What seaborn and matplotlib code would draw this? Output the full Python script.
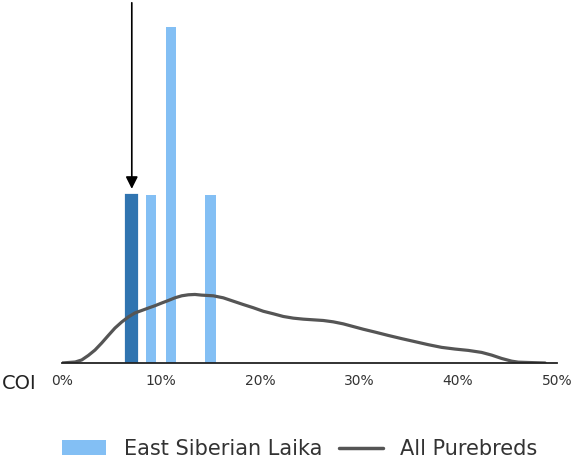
import numpy as np
import pandas as pd
import seaborn as sns
import matplotlib.pyplot as plt
from matplotlib.patches import Patch
from matplotlib.lines import Line2D

# East Siberian Laika COI values (%) and dog counts
laika_coi = [7, 9, 11, 15]
laika_count = [1, 1, 2, 1]
laika_group = ['this dog', 'breed', 'breed', 'breed']

# All purebreds density curve (same y units as counts)
kde_x = [0, 1.34, 1.99, 2.66, 3.33, 4.01, 4.68, 5.35, 6.03, 6.70, 7.37, 8.05, 8.72,
         9.39, 10.07, 10.74, 11.41, 12.09, 12.76, 13.43, 14.11, 15.28, 16.29, 17.30,
         18.31, 19.32, 20.33, 21.34, 22.35, 23.36, 24.37, 25.38, 26.39, 27.40, 28.41,
         29.42, 30.43, 31.62, 32.96, 34.31, 35.66, 37.0, 38.35, 39.70, 41.04, 42.39,
         43.40, 44.41, 45.42, 46.09, 47.10, 48.8]
kde_y = [0, 0.006, 0.018, 0.045, 0.077, 0.119, 0.164, 0.208, 0.244, 0.274, 0.298,
         0.3125, 0.327, 0.341, 0.357, 0.372, 0.388, 0.400, 0.406, 0.408, 0.404, 0.400,
         0.388, 0.368, 0.348, 0.329, 0.308, 0.293, 0.277, 0.267, 0.261, 0.257, 0.253,
         0.245, 0.233, 0.217, 0.201, 0.184, 0.164, 0.145, 0.127, 0.109, 0.093, 0.083,
         0.075, 0.063, 0.047, 0.027, 0.011, 0.005, 0.003, 0.0]

xticks = [0, 10, 20, 30, 40, 50]
xticklabels = ['0%', '10%', '20%', '30%', '40%', '50%']

light = '#83bff4'
dark = '#3074b0'
line_col = '#555555'

df = pd.DataFrame({'coi': laika_coi, 'count': laika_count, 'group': laika_group})

sns.set_style('white')
fig = plt.figure(figsize=(5.75, 4.61), dpi=100)
ax = fig.add_axes([62 / 575, 98 / 461, 495 / 575, 363 / 461])

sns.barplot(data=df, x='coi', y='count', hue='group', native_scale=True, dodge=False,
            palette={'this dog': dark, 'breed': light}, width=0.53, ax=ax, legend=False,
            linewidth=0, saturation=1)
for p in ax.patches:
    if p.get_facecolor()[:3] == plt.matplotlib.colors.to_rgb(dark):
        p.set_edgecolor(dark)
        p.set_linewidth(1.6)

sns.lineplot(x=kde_x, y=kde_y, ax=ax, color=line_col, linewidth=2.3)

ax.set_xlim(0, 50)
ax.set_ylim(0, 363 / 168)
ax.set_xticks(xticks)
ax.set_xticklabels(xticklabels, fontsize=10, color='#333333')
ax.set_yticks([])
ax.set_xlabel('')
ax.set_ylabel('')
ax.tick_params(axis='x', length=0, pad=8)
for s in ['top', 'left', 'right']:
    ax.spines[s].set_visible(False)
ax.spines['bottom'].set_color('#222222')
ax.spines['bottom'].set_linewidth(1.3)

ax.annotate('', xy=(7.05, 1.02), xytext=(7.05, 363 / 168), annotation_clip=False,
            arrowprops=dict(arrowstyle='-|>', color='black', lw=1.2, mutation_scale=18))

fig.text(0.004, 1 - 383 / 461, 'COI', fontsize=14, color='#222222', va='center', ha='left')

handles = [Patch(facecolor=light, edgecolor='none'),
           Line2D([0], [0], color=line_col, linewidth=2.5)]
fig.legend(handles, ['East Siberian Laika', 'All Purebreds'], loc='center',
           bbox_to_anchor=(300 / 575, 1 - 449 / 461), ncol=2, frameon=False,
           fontsize=15, handlelength=2.1, columnspacing=0.8, handletextpad=0.85,
           labelcolor='#333333')

fig.savefig('out.png', dpi=100)
